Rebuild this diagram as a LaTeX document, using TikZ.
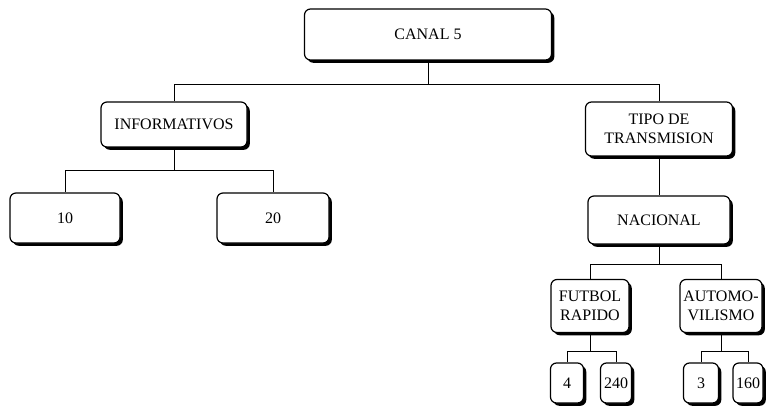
\documentclass[tikz,border=0pt]{standalone}
\usepackage{fontspec}
\setmainfont{Liberation Serif}
\usetikzlibrary{shadows}

\begin{document}
\begin{tikzpicture}[x=1pt,y=-1pt,
  caja/.style={draw,line width=1.2pt,rounded corners=6pt,fill=white,inner sep=1pt,
    align=center,font=\fontsize{16}{19}\selectfont,
    drop shadow={shadow xshift=2.8pt,shadow yshift=-2.8pt,fill=black,opacity=1}},
  linea/.style={line width=0.9pt}]
\useasboundingbox (0,0) rectangle (766,409);
\node[caja,minimum width=247pt,minimum height=51pt] (canal) at (428,34.5) {CANAL 5};
\node[caja,minimum width=146pt,minimum height=45pt] (info) at (174,124.5) {INFORMATIVOS};
\node[caja,minimum width=147pt,minimum height=54pt] (tipo) at (659,129) {TIPO DE\\TRANSMISION};
\node[caja,minimum width=110pt,minimum height=50pt] (n10) at (65,218) {10};
\node[caja,minimum width=112pt,minimum height=50pt] (n20) at (273,218) {20};
\node[caja,minimum width=142pt,minimum height=48pt] (nacional) at (659,220) {NACIONAL};
\node[caja,minimum width=78pt,minimum height=53pt] (futbol) at (590,306) {FUTBOL\\RAPIDO};
\node[caja,minimum width=82pt,minimum height=53pt] (auto) at (721,306) {AUTOMO-\\VILISMO};
\node[caja,minimum width=33pt,minimum height=40pt] (n4) at (567,383) {4};
\node[caja,minimum width=31pt,minimum height=40pt] (n240) at (616,383) {240};
\node[caja,minimum width=35pt,minimum height=40pt] (n3) at (701,383) {3};
\node[caja,minimum width=30pt,minimum height=40pt] (n160) at (748,383) {160};
\draw[linea] (canal.south) -- ++(0,24) -| (info.north);
\draw[linea] (canal.south) -- ++(0,24) -| (tipo.north);
\draw[linea] (info.south) -- ++(0,23) -| (n10.north);
\draw[linea] (info.south) -- ++(0,23) -| (n20.north);
\draw[linea] (tipo.south) -- (nacional.north);
\draw[linea] (nacional.south) -- ++(0,20) -| (futbol.north);
\draw[linea] (nacional.south) -- ++(0,20) -| (auto.north);
\draw[linea] (futbol.south) -- ++(0,18) -| (n4.north);
\draw[linea] (futbol.south) -- ++(0,18) -| (n240.north);
\draw[linea] (auto.south) -- ++(0,18) -| (n3.north);
\draw[linea] (auto.south) -- ++(0,18) -| (n160.north);
\end{tikzpicture}
\end{document}
